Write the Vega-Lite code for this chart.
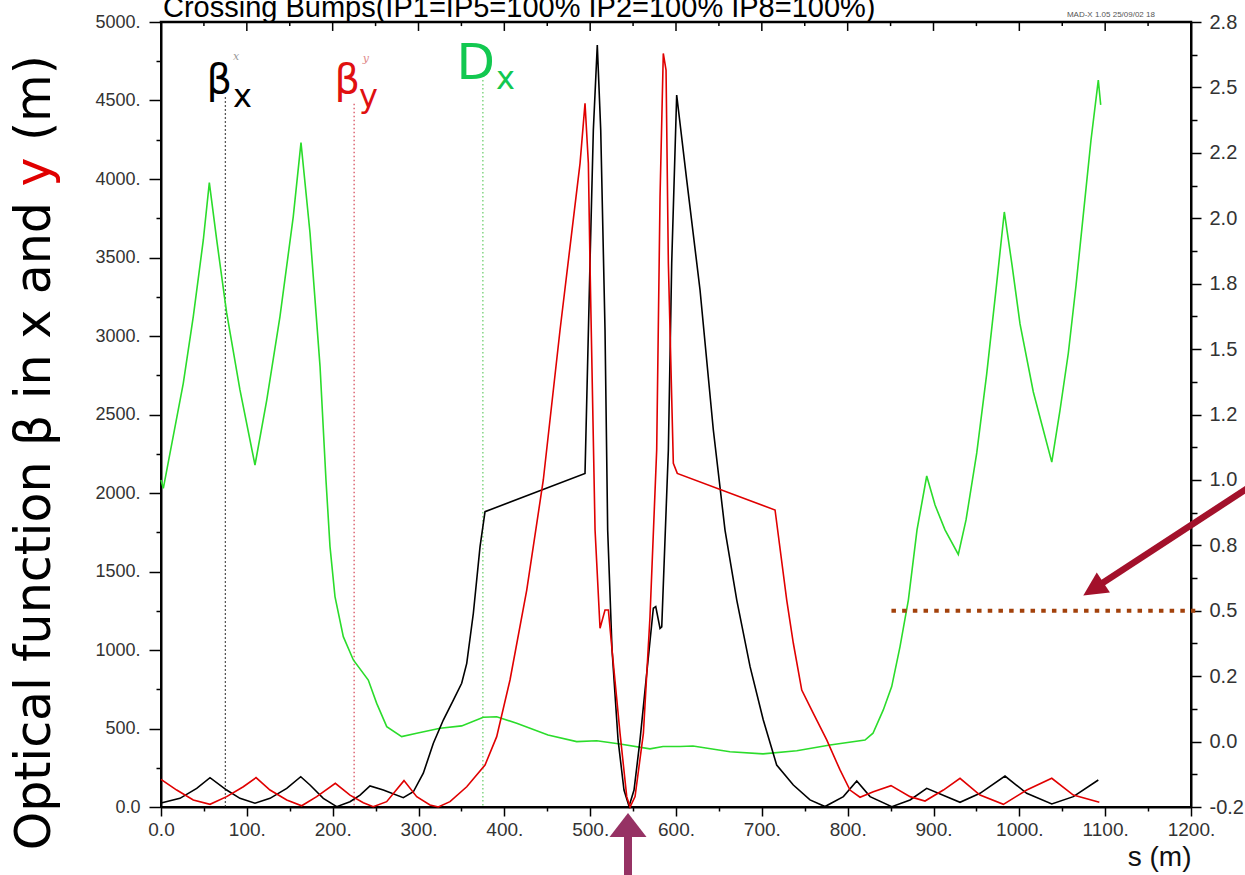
{
  "$schema": "https://vega.github.io/schema/vega-lite/v6.json",
  "width": 1030,
  "height": 785,
  "autosize": "none",
  "padding": {"left": 161, "top": 22, "right": 54, "bottom": 68},
  "background": "white",
  "config": {
    "view": {"stroke": "#000000", "strokeWidth": 2},
    "axis": {"grid": false, "domainColor": "#000000", "tickColor": "#000000", "labelFont": "Liberation Sans", "labelColor": "#333333", "labelOverlap": false, "labelFlush": false}
  },
  "datasets": {
    "beta": [
      {"s": 0, "beta": 25, "plane": "x"}, {"s": 22.1, "beta": 55, "plane": "x"}, {"s": 41.6, "beta": 119, "plane": "x"}, {"s": 57.1, "beta": 187, "plane": "x"},
      {"s": 76.5, "beta": 108, "plane": "x"}, {"s": 92.0, "beta": 55, "plane": "x"}, {"s": 109.5, "beta": 24, "plane": "x"}, {"s": 127.0, "beta": 55, "plane": "x"},
      {"s": 146.5, "beta": 119, "plane": "x"}, {"s": 162.8, "beta": 193, "plane": "x"}, {"s": 173.6, "beta": 140, "plane": "x"}, {"s": 189.1, "beta": 55, "plane": "x"},
      {"s": 204.7, "beta": 2, "plane": "x"}, {"s": 220.2, "beta": 34, "plane": "x"}, {"s": 231.9, "beta": 76, "plane": "x"}, {"s": 243.5, "beta": 134, "plane": "x"},
      {"s": 259.0, "beta": 108, "plane": "x"}, {"s": 282.3, "beta": 59, "plane": "x"}, {"s": 294.0, "beta": 97, "plane": "x"}, {"s": 305.6, "beta": 215, "plane": "x"},
      {"s": 317.3, "beta": 406, "plane": "x"}, {"s": 328.9, "beta": 554, "plane": "x"}, {"s": 340.6, "beta": 681, "plane": "x"}, {"s": 350.3, "beta": 788, "plane": "x"},
      {"s": 356.2, "beta": 915, "plane": "x"}, {"s": 363.9, "beta": 1234, "plane": "x"}, {"s": 371.7, "beta": 1658, "plane": "x"}, {"s": 377.5, "beta": 1881, "plane": "x"},
      {"s": 494.0, "beta": 2125, "plane": "x"}, {"s": 499.8, "beta": 3463, "plane": "x"}, {"s": 503.7, "beta": 4312, "plane": "x"}, {"s": 508.3, "beta": 4853, "plane": "x"},
      {"s": 512.3, "beta": 4312, "plane": "x"}, {"s": 517.3, "beta": 3038, "plane": "x"}, {"s": 520.4, "beta": 1764, "plane": "x"}, {"s": 525.5, "beta": 1000, "plane": "x"},
      {"s": 532.5, "beta": 427, "plane": "x"}, {"s": 539.4, "beta": 108, "plane": "x"}, {"s": 545.3, "beta": 5, "plane": "x"}, {"s": 551.1, "beta": 108, "plane": "x"},
      {"s": 558.1, "beta": 427, "plane": "x"}, {"s": 565.1, "beta": 809, "plane": "x"}, {"s": 573.6, "beta": 1266, "plane": "x"}, {"s": 576.4, "beta": 1276, "plane": "x"},
      {"s": 581.4, "beta": 1138, "plane": "x"}, {"s": 583.4, "beta": 1148, "plane": "x"}, {"s": 591.1, "beta": 2274, "plane": "x"}, {"s": 595.0, "beta": 3465, "plane": "x"},
      {"s": 600.8, "beta": 4535, "plane": "x"}, {"s": 612.5, "beta": 3993, "plane": "x"}, {"s": 628.0, "beta": 3293, "plane": "x"}, {"s": 643.5, "beta": 2401, "plane": "x"},
      {"s": 657.1, "beta": 1764, "plane": "x"}, {"s": 670.8, "beta": 1318, "plane": "x"}, {"s": 686.3, "beta": 894, "plane": "x"}, {"s": 701.7, "beta": 554, "plane": "x"},
      {"s": 717.3, "beta": 267, "plane": "x"}, {"s": 736.7, "beta": 140, "plane": "x"}, {"s": 756.1, "beta": 45, "plane": "x"}, {"s": 773.6, "beta": 3, "plane": "x"},
      {"s": 795.0, "beta": 66, "plane": "x"}, {"s": 810.6, "beta": 166, "plane": "x"}, {"s": 826.1, "beta": 66, "plane": "x"}, {"s": 851.4, "beta": 2, "plane": "x"},
      {"s": 872.7, "beta": 45, "plane": "x"}, {"s": 892.1, "beta": 119, "plane": "x"}, {"s": 915.4, "beta": 66, "plane": "x"}, {"s": 930.9, "beta": 30, "plane": "x"},
      {"s": 954.2, "beta": 87, "plane": "x"}, {"s": 983.3, "beta": 197, "plane": "x"}, {"s": 1008.6, "beta": 87, "plane": "x"}, {"s": 1037.8, "beta": 19, "plane": "x"},
      {"s": 1062.9, "beta": 66, "plane": "x"}, {"s": 1092.0, "beta": 172, "plane": "x"},
      {"s": 0, "beta": 176, "plane": "y"}, {"s": 18.3, "beta": 108, "plane": "y"}, {"s": 37.6, "beta": 45, "plane": "y"}, {"s": 57.1, "beta": 17, "plane": "y"},
      {"s": 76.5, "beta": 66, "plane": "y"}, {"s": 95.9, "beta": 129, "plane": "y"}, {"s": 110.7, "beta": 187, "plane": "y"}, {"s": 127.0, "beta": 108, "plane": "y"},
      {"s": 146.5, "beta": 45, "plane": "y"}, {"s": 163.9, "beta": 8, "plane": "y"}, {"s": 181.4, "beta": 66, "plane": "y"}, {"s": 203.1, "beta": 151, "plane": "y"},
      {"s": 220.2, "beta": 76, "plane": "y"}, {"s": 235.7, "beta": 27, "plane": "y"}, {"s": 247.3, "beta": 2, "plane": "y"}, {"s": 262.9, "beta": 34, "plane": "y"},
      {"s": 283.1, "beta": 168, "plane": "y"}, {"s": 297.9, "beta": 66, "plane": "y"}, {"s": 313.4, "beta": 13, "plane": "y"}, {"s": 323.1, "beta": 0, "plane": "y"},
      {"s": 336.7, "beta": 34, "plane": "y"}, {"s": 356.2, "beta": 129, "plane": "y"}, {"s": 377.5, "beta": 267, "plane": "y"}, {"s": 391.1, "beta": 448, "plane": "y"},
      {"s": 406.6, "beta": 809, "plane": "y"}, {"s": 426.1, "beta": 1382, "plane": "y"}, {"s": 445.4, "beta": 2083, "plane": "y"}, {"s": 464.9, "beta": 3038, "plane": "y"},
      {"s": 488.2, "beta": 4100, "plane": "y"}, {"s": 494.0, "beta": 4482, "plane": "y"}, {"s": 497.9, "beta": 4100, "plane": "y"}, {"s": 499.8, "beta": 3463, "plane": "y"},
      {"s": 505.7, "beta": 1764, "plane": "y"}, {"s": 511.5, "beta": 1138, "plane": "y"}, {"s": 517.3, "beta": 1255, "plane": "y"}, {"s": 521.2, "beta": 1255, "plane": "y"},
      {"s": 525.5, "beta": 1000, "plane": "y"}, {"s": 534.8, "beta": 469, "plane": "y"}, {"s": 542.6, "beta": 66, "plane": "y"}, {"s": 546.5, "beta": 0, "plane": "y"},
      {"s": 552.3, "beta": 66, "plane": "y"}, {"s": 562.0, "beta": 469, "plane": "y"}, {"s": 569.7, "beta": 1212, "plane": "y"}, {"s": 577.5, "beta": 2274, "plane": "y"},
      {"s": 581.4, "beta": 3887, "plane": "y"}, {"s": 585.2, "beta": 4800, "plane": "y"}, {"s": 588.4, "beta": 4694, "plane": "y"}, {"s": 591.1, "beta": 3463, "plane": "y"},
      {"s": 596.9, "beta": 2189, "plane": "y"}, {"s": 601.5, "beta": 2125, "plane": "y"}, {"s": 715.4, "beta": 1892, "plane": "y"}, {"s": 729.0, "beta": 1318, "plane": "y"},
      {"s": 736.7, "beta": 1043, "plane": "y"}, {"s": 746.5, "beta": 745, "plane": "y"}, {"s": 760.0, "beta": 597, "plane": "y"}, {"s": 775.6, "beta": 427, "plane": "y"},
      {"s": 791.1, "beta": 236, "plane": "y"}, {"s": 802.7, "beta": 108, "plane": "y"}, {"s": 814.4, "beta": 62, "plane": "y"}, {"s": 829.9, "beta": 97, "plane": "y"},
      {"s": 850.5, "beta": 136, "plane": "y"}, {"s": 872.7, "beta": 66, "plane": "y"}, {"s": 890.1, "beta": 38, "plane": "y"}, {"s": 911.5, "beta": 108, "plane": "y"},
      {"s": 930.9, "beta": 183, "plane": "y"}, {"s": 954.2, "beta": 76, "plane": "y"}, {"s": 981.4, "beta": 17, "plane": "y"}, {"s": 1008.6, "beta": 108, "plane": "y"},
      {"s": 1037.8, "beta": 183, "plane": "y"}, {"s": 1062.9, "beta": 76, "plane": "y"}, {"s": 1093.2, "beta": 30, "plane": "y"}
    ],
    "disp": [
      {"s": 0, "D": 1.0}, {"s": 2.7, "D": 0.968}, {"s": 26.0, "D": 1.370}, {"s": 37.6, "D": 1.624}, {"s": 49.3, "D": 1.917}, {"s": 56.3, "D": 2.136},
      {"s": 64.9, "D": 1.917}, {"s": 76.5, "D": 1.638}, {"s": 92.0, "D": 1.344}, {"s": 109.5, "D": 1.057}, {"s": 123.2, "D": 1.305}, {"s": 138.6, "D": 1.624},
      {"s": 154.1, "D": 2.006}, {"s": 163.1, "D": 2.289}, {"s": 173.6, "D": 1.944}, {"s": 185.3, "D": 1.433}, {"s": 192.2, "D": 1.0}, {"s": 196.9, "D": 0.745},
      {"s": 202.7, "D": 0.554}, {"s": 212.4, "D": 0.401}, {"s": 224.1, "D": 0.312}, {"s": 241.5, "D": 0.235}, {"s": 251.3, "D": 0.146}, {"s": 263.0, "D": 0.057},
      {"s": 280.4, "D": 0.019}, {"s": 297.9, "D": 0.032}, {"s": 325.1, "D": 0.051}, {"s": 350.3, "D": 0.060}, {"s": 375.5, "D": 0.093}, {"s": 391.1, "D": 0.095},
      {"s": 414.4, "D": 0.070}, {"s": 450.9, "D": 0.025}, {"s": 484.3, "D": 0.0}, {"s": 507.6, "D": 0.003}, {"s": 534.8, "D": -0.009}, {"s": 569.7, "D": -0.028},
      {"s": 584.9, "D": -0.019}, {"s": 604.7, "D": -0.019}, {"s": 619.8, "D": -0.017}, {"s": 662.9, "D": -0.039}, {"s": 701.4, "D": -0.047}, {"s": 740.7, "D": -0.035},
      {"s": 779.4, "D": -0.013}, {"s": 820.2, "D": 0.006}, {"s": 829.5, "D": 0.032}, {"s": 841.5, "D": 0.121}, {"s": 851.3, "D": 0.210}, {"s": 861.0, "D": 0.363},
      {"s": 870.7, "D": 0.541}, {"s": 880.8, "D": 0.809}, {"s": 892.1, "D": 1.015}, {"s": 901.8, "D": 0.904}, {"s": 913.4, "D": 0.809}, {"s": 928.9, "D": 0.715},
      {"s": 937.9, "D": 0.847}, {"s": 950.4, "D": 1.103}, {"s": 962.0, "D": 1.405}, {"s": 972.8, "D": 1.726}, {"s": 982.5, "D": 2.024}, {"s": 991.5, "D": 1.821},
      {"s": 1000.8, "D": 1.596}, {"s": 1016.3, "D": 1.336}, {"s": 1026.4, "D": 1.210}, {"s": 1037.8, "D": 1.068}, {"s": 1047.4, "D": 1.267}, {"s": 1057.1, "D": 1.485},
      {"s": 1066.1, "D": 1.745}, {"s": 1074.6, "D": 2.016}, {"s": 1083.5, "D": 2.299}, {"s": 1092.0, "D": 2.528}, {"s": 1094.8, "D": 2.433}
    ],
    "markers": [
      {"s": 75, "top": 4520, "label": "βx"},
      {"s": 225, "top": 4480, "label": "βy"},
      {"s": 375, "top": 4630, "label": "Dx"}
    ],
    "frameTop": [{"s0": 0, "s1": 1200, "b": 5000}],
    "majorTicks": [{"s": 100}, {"s": 200}, {"s": 300}, {"s": 400}, {"s": 500}, {"s": 600}, {"s": 700}, {"s": 800}, {"s": 900}, {"s": 1000}, {"s": 1100}],
    "minorTicks": [{"s": 50}, {"s": 150}, {"s": 250}, {"s": 350}, {"s": 450}, {"s": 550}, {"s": 650}, {"s": 750}, {"s": 850}, {"s": 950}, {"s": 1050}, {"s": 1150}]
  },
  "layer": [
    {
      "data": {"name": "markers"},
      "mark": {"type": "rule", "strokeDash": [1.5, 2.5], "strokeWidth": 1.3},
      "encoding": {
        "x": {"field": "s", "type": "quantitative", "scale": {"domain": [0, 1200], "nice": false, "zero": false}, "axis": null},
        "y": {"field": "top", "type": "quantitative", "scale": {"domain": [0, 5000], "nice": false, "zero": false}, "axis": null},
        "y2": {"datum": 0},
        "color": {"field": "label", "type": "nominal", "scale": {"domain": ["βx", "βy", "Dx"], "range": ["#222222", "#d85060", "#70d070"]}, "legend": null}
      }
    },
    {
      "data": {"name": "disp"},
      "mark": {"type": "line", "color": "#2bdc2b", "strokeWidth": 1.6},
      "encoding": {
        "x": {"field": "s", "type": "quantitative", "scale": {"domain": [0, 1200], "nice": false, "zero": false}, "axis": null},
        "y": {"field": "D", "type": "quantitative", "scale": {"domain": [-0.25, 2.75], "nice": false, "zero": false},
          "axis": {"orient": "right", "values": [-0.25,-0.125,0,0.125,0.25,0.375,0.5,0.625,0.75,0.875,1,1.125,1.25,1.375,1.5,1.625,1.75,1.875,2,2.125,2.25,2.375,2.5,2.625,2.75],
            "labelExpr": "(datum.value * 4) % 1 !== 0 ? '' : datum.value === 2.25 ? '2.2' : datum.value === 1.25 ? '1.2' : datum.value === 0.25 ? '0.2' : datum.value === -0.25 ? '-0.2' : format(datum.value, '.1f')",
            "labelFontSize": 20, "labelPadding": 8, "title": null, "domainWidth": 2, "tickWidth": 1.5,
            "tickSize": {"condition": {"test": "(datum.value * 4) % 1 === 0", "value": 10}, "value": 6}}}
      }
    },
    {
      "data": {"name": "beta"},
      "mark": {"type": "line", "strokeWidth": 1.6},
      "encoding": {
        "x": {"field": "s", "type": "quantitative", "scale": {"domain": [0, 1200], "nice": false, "zero": false},
          "axis": {"orient": "bottom", "values": [0,50,100,150,200,250,300,350,400,450,500,550,600,650,700,750,800,850,900,950,1000,1050,1100,1150,1200],
            "labelExpr": "datum.value % 100 !== 0 ? '' : (datum.value === 0 ? '0.0' : datum.value + '.')",
            "labelFontSize": 19, "labelPadding": 4, "domainWidth": 2, "tickWidth": 1.5,
            "tickSize": {"condition": {"test": "datum.value % 100 === 0", "value": 9}, "value": 4},
            "title": "s (m)", "titleFont": "Liberation Sans", "titleFontSize": 28, "titleFontWeight": "normal", "titleColor": "#111111",
            "titleAnchor": "end", "titleAlign": "right", "titlePadding": 4}},
        "y": {"field": "beta", "type": "quantitative", "scale": {"domain": [0, 5000], "nice": false, "zero": false},
          "axis": {"orient": "left", "values": [0,250,500,750,1000,1250,1500,1750,2000,2250,2500,2750,3000,3250,3500,3750,4000,4250,4500,4750,5000],
            "labelExpr": "datum.value % 500 !== 0 ? '' : (datum.value === 0 ? '0.0' : datum.value + '.')",
            "labelFontSize": 18, "labelPadding": 9, "title": null, "domainWidth": 2, "tickWidth": 1.5,
            "tickSize": {"condition": {"test": "datum.value % 500 === 0", "value": 12}, "value": 5}}},
        "color": {"field": "plane", "type": "nominal", "scale": {"domain": ["x", "y"], "range": ["#000000", "#e00000"]}, "legend": null}
      }
    },
    {
      "data": {"name": "frameTop"},
      "mark": {"type": "rule", "color": "#000000", "strokeWidth": 2.5, "strokeCap": "square"},
      "encoding": {
        "x": {"field": "s0", "type": "quantitative", "scale": {"domain": [0, 1200], "nice": false, "zero": false}, "axis": null},
        "x2": {"field": "s1"},
        "y": {"field": "b", "type": "quantitative", "scale": {"domain": [0, 5000], "nice": false, "zero": false}, "axis": null},
        "y2": {"field": "b"}
      }
    },
    {
      "data": {"name": "majorTicks"},
      "mark": {"type": "rule", "color": "#000000", "strokeWidth": 1.5},
      "encoding": {
        "x": {"field": "s", "type": "quantitative", "scale": {"domain": [0, 1200], "nice": false, "zero": false}, "axis": null},
        "y": {"datum": 5000, "type": "quantitative", "scale": {"domain": [0, 5000], "nice": false, "zero": false}, "axis": null},
        "y2": {"datum": 4943}
      }
    },
    {
      "data": {"name": "minorTicks"},
      "mark": {"type": "rule", "color": "#000000", "strokeWidth": 1.5},
      "encoding": {
        "x": {"field": "s", "type": "quantitative", "scale": {"domain": [0, 1200], "nice": false, "zero": false}, "axis": null},
        "y": {"datum": 5000, "type": "quantitative", "scale": {"domain": [0, 5000], "nice": false, "zero": false}, "axis": null},
        "y2": {"datum": 4974}
      }
    },
    {
      "data": {"values": [{"s0": 851, "s1": 1205, "D": 0.5}]},
      "mark": {"type": "rule", "color": "#a3420c", "strokeWidth": 4, "strokeDash": [4.5, 6.2], "strokeCap": "butt"},
      "encoding": {
        "x": {"field": "s0", "type": "quantitative", "scale": {"domain": [0, 1200], "nice": false, "zero": false}, "axis": null},
        "x2": {"field": "s1"},
        "y": {"field": "D", "type": "quantitative", "scale": {"domain": [-0.25, 2.75], "nice": false, "zero": false}, "axis": null}
      }
    },
    {
      "data": {"values": [{"s0": 1270, "s1": 1086.2, "D0": 0.977, "D1": 0.583}]},
      "mark": {"type": "rule", "color": "#a3112b", "strokeWidth": 6.5, "strokeCap": "butt"},
      "encoding": {
        "x": {"field": "s0", "type": "quantitative", "scale": {"domain": [0, 1200], "nice": false, "zero": false}, "axis": null},
        "x2": {"field": "s1"},
        "y": {"field": "D0", "type": "quantitative", "scale": {"domain": [-0.25, 2.75], "nice": false, "zero": false}, "axis": null},
        "y2": {"field": "D1"}
      }
    },
    {
      "data": {"values": [{"s": 1086.2, "D": 0.583}]},
      "mark": {"type": "point", "shape": "M-1,1L0,-1L1,1Z", "size": 576, "angle": 236.7, "filled": true, "color": "#a3112b", "opacity": 1, "strokeWidth": 0},
      "encoding": {
        "x": {"field": "s", "type": "quantitative", "scale": {"domain": [0, 1200], "nice": false, "zero": false}, "axis": null},
        "y": {"field": "D", "type": "quantitative", "scale": {"domain": [-0.25, 2.75], "nice": false, "zero": false}, "axis": null}
      }
    },
    {
      "data": {"values": [{"s": 544.1, "b0": -150, "b1": -480}]},
      "mark": {"type": "rule", "color": "#963264", "strokeWidth": 8, "strokeCap": "butt"},
      "encoding": {
        "x": {"field": "s", "type": "quantitative", "scale": {"domain": [0, 1200], "nice": false, "zero": false}, "axis": null},
        "y": {"field": "b0", "type": "quantitative", "scale": {"domain": [0, 5000], "nice": false, "zero": false}, "axis": null},
        "y2": {"field": "b1"}
      }
    },
    {
      "data": {"values": [{"s": 544.1, "b": -115}]},
      "mark": {"type": "point", "shape": "M-1,0.65L0,-0.65L1,0.65Z", "size": 1369, "filled": true, "color": "#963264", "opacity": 1, "strokeWidth": 0},
      "encoding": {
        "x": {"field": "s", "type": "quantitative", "scale": {"domain": [0, 1200], "nice": false, "zero": false}, "axis": null},
        "y": {"field": "b", "type": "quantitative", "scale": {"domain": [0, 5000], "nice": false, "zero": false}, "axis": null}
      }
    },
    {
      "data": {"values": [{"s": 2.3, "b": 5031, "t": "Crossing Bumps(IP1=IP5=100% IP2=100% IP8=100%)"}]},
      "mark": {"type": "text", "font": "Liberation Sans", "fontSize": 29, "align": "left", "baseline": "alphabetic", "color": "#000000"},
      "encoding": {
        "x": {"field": "s", "type": "quantitative", "scale": {"domain": [0, 1200], "nice": false, "zero": false}, "axis": null},
        "y": {"field": "b", "type": "quantitative", "scale": {"domain": [0, 5000], "nice": false, "zero": false}, "axis": null},
        "text": {"field": "t"}
      }
    },
    {
      "data": {"values": [{"s": 82.7, "b": 4547, "t": "β"}]},
      "mark": {"type": "text", "font": "DejaVu Sans", "fontSize": 40, "align": "right", "baseline": "alphabetic", "color": "#000000"},
      "encoding": {
        "x": {"field": "s", "type": "quantitative", "scale": {"domain": [0, 1200], "nice": false, "zero": false}, "axis": null},
        "y": {"field": "b", "type": "quantitative", "scale": {"domain": [0, 5000], "nice": false, "zero": false}, "axis": null},
        "text": {"field": "t"}
      }
    },
    {
      "data": {"values": [{"s": 83.9, "b": 4458, "t": "x"}]},
      "mark": {"type": "text", "font": "DejaVu Sans", "fontSize": 32, "align": "left", "baseline": "alphabetic", "color": "#000000"},
      "encoding": {
        "x": {"field": "s", "type": "quantitative", "scale": {"domain": [0, 1200], "nice": false, "zero": false}, "axis": null},
        "y": {"field": "b", "type": "quantitative", "scale": {"domain": [0, 5000], "nice": false, "zero": false}, "axis": null},
        "text": {"field": "t"}
      }
    },
    {
      "data": {"values": [{"s": 231.9, "b": 4547, "t": "β"}]},
      "mark": {"type": "text", "font": "DejaVu Sans", "fontSize": 40, "align": "right", "baseline": "alphabetic", "color": "#e01010"},
      "encoding": {
        "x": {"field": "s", "type": "quantitative", "scale": {"domain": [0, 1200], "nice": false, "zero": false}, "axis": null},
        "y": {"field": "b", "type": "quantitative", "scale": {"domain": [0, 5000], "nice": false, "zero": false}, "axis": null},
        "text": {"field": "t"}
      }
    },
    {
      "data": {"values": [{"s": 230.7, "b": 4458, "t": "y"}]},
      "mark": {"type": "text", "font": "DejaVu Sans", "fontSize": 32, "align": "left", "baseline": "alphabetic", "color": "#e01010"},
      "encoding": {
        "x": {"field": "s", "type": "quantitative", "scale": {"domain": [0, 1200], "nice": false, "zero": false}, "axis": null},
        "y": {"field": "b", "type": "quantitative", "scale": {"domain": [0, 5000], "nice": false, "zero": false}, "axis": null},
        "text": {"field": "t"}
      }
    },
    {
      "data": {"values": [{"s": 389.1, "b": 4637, "t": "D"}]},
      "mark": {"type": "text", "font": "DejaVu Sans", "fontSize": 50, "align": "right", "baseline": "alphabetic", "color": "#12c850"},
      "encoding": {
        "x": {"field": "s", "type": "quantitative", "scale": {"domain": [0, 1200], "nice": false, "zero": false}, "axis": null},
        "y": {"field": "b", "type": "quantitative", "scale": {"domain": [0, 5000], "nice": false, "zero": false}, "axis": null},
        "text": {"field": "t"}
      }
    },
    {
      "data": {"values": [{"s": 390.3, "b": 4573, "t": "x"}]},
      "mark": {"type": "text", "font": "DejaVu Sans", "fontSize": 32, "align": "left", "baseline": "alphabetic", "color": "#12c850"},
      "encoding": {
        "x": {"field": "s", "type": "quantitative", "scale": {"domain": [0, 1200], "nice": false, "zero": false}, "axis": null},
        "y": {"field": "b", "type": "quantitative", "scale": {"domain": [0, 5000], "nice": false, "zero": false}, "axis": null},
        "text": {"field": "t"}
      }
    },
    {
      "data": {"values": [{"s": 87.4, "b": 4758, "t": "x"}]},
      "mark": {"type": "text", "font": "DejaVu Serif", "fontSize": 11, "fontStyle": "italic", "align": "center", "baseline": "alphabetic", "color": "#999999"},
      "encoding": {
        "x": {"field": "s", "type": "quantitative", "scale": {"domain": [0, 1200], "nice": false, "zero": false}, "axis": null},
        "y": {"field": "b", "type": "quantitative", "scale": {"domain": [0, 5000], "nice": false, "zero": false}, "axis": null},
        "text": {"field": "t"}
      }
    },
    {
      "data": {"values": [{"s": 238.8, "b": 4745, "t": "y"}]},
      "mark": {"type": "text", "font": "DejaVu Serif", "fontSize": 11, "fontStyle": "italic", "align": "center", "baseline": "alphabetic", "color": "#e08a8a"},
      "encoding": {
        "x": {"field": "s", "type": "quantitative", "scale": {"domain": [0, 1200], "nice": false, "zero": false}, "axis": null},
        "y": {"field": "b", "type": "quantitative", "scale": {"domain": [0, 5000], "nice": false, "zero": false}, "axis": null},
        "text": {"field": "t"}
      }
    },
    {
      "data": {"values": [{"s": 1158, "b": 5031, "t": "MAD-X 1.05  25/09/02 18"}]},
      "mark": {"type": "text", "font": "Liberation Sans", "fontSize": 8, "align": "right", "baseline": "alphabetic", "color": "#555555"},
      "encoding": {
        "x": {"field": "s", "type": "quantitative", "scale": {"domain": [0, 1200], "nice": false, "zero": false}, "axis": null},
        "y": {"field": "b", "type": "quantitative", "scale": {"domain": [0, 5000], "nice": false, "zero": false}, "axis": null},
        "text": {"field": "t"}
      }
    },
    {
      "data": {"values": [{"s": -129.3, "b": 3853, "t": "Optical function β in x and"}]},
      "mark": {"type": "text", "font": "DejaVu Sans", "fontSize": 49, "angle": 270, "align": "right", "baseline": "alphabetic", "color": "#000000"},
      "encoding": {
        "x": {"field": "s", "type": "quantitative", "scale": {"domain": [0, 1200], "nice": false, "zero": false}, "axis": null},
        "y": {"field": "b", "type": "quantitative", "scale": {"domain": [0, 5000], "nice": false, "zero": false}, "axis": null},
        "text": {"field": "t"}
      }
    },
    {
      "data": {"values": [{"s": -129.3, "b": 4044, "t": "y"}]},
      "mark": {"type": "text", "font": "DejaVu Sans", "fontSize": 49, "angle": 270, "align": "center", "baseline": "alphabetic", "color": "#e00000"},
      "encoding": {
        "x": {"field": "s", "type": "quantitative", "scale": {"domain": [0, 1200], "nice": false, "zero": false}, "axis": null},
        "y": {"field": "b", "type": "quantitative", "scale": {"domain": [0, 5000], "nice": false, "zero": false}, "axis": null},
        "text": {"field": "t"}
      }
    },
    {
      "data": {"values": [{"s": -129.3, "b": 4242, "t": "(m)"}]},
      "mark": {"type": "text", "font": "DejaVu Sans", "fontSize": 49, "angle": 270, "align": "left", "baseline": "alphabetic", "color": "#000000"},
      "encoding": {
        "x": {"field": "s", "type": "quantitative", "scale": {"domain": [0, 1200], "nice": false, "zero": false}, "axis": null},
        "y": {"field": "b", "type": "quantitative", "scale": {"domain": [0, 5000], "nice": false, "zero": false}, "axis": null},
        "text": {"field": "t"}
      }
    }
  ],
  "resolve": {
    "scale": {"x": "independent", "y": "independent", "color": "independent"},
    "axis": {"x": "independent", "y": "independent"}
  }
}
